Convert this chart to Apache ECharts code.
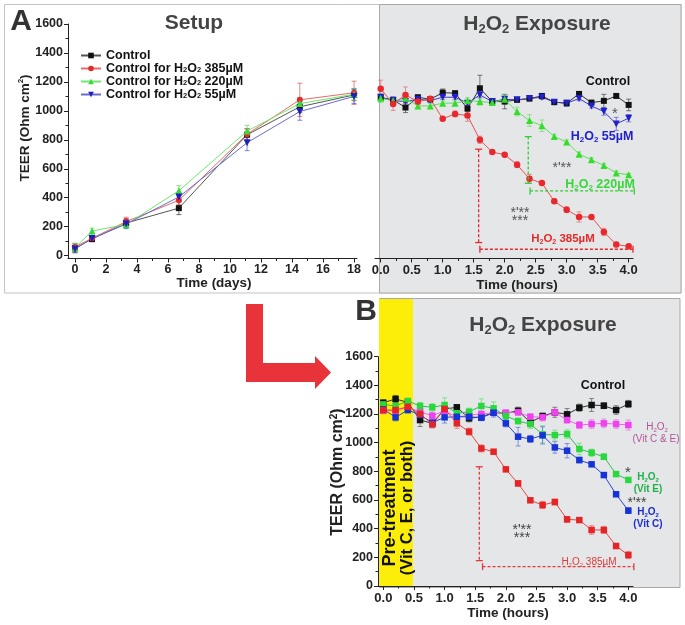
<!DOCTYPE html>
<html><head><meta charset="utf-8">
<script src="https://cdn.jsdelivr.net/npm/echarts@6/dist/echarts.min.js"></script>
<style>html,body{margin:0;padding:0;background:#fff}#c{width:685px;height:625px}</style>
</head><body><div id="c"></div>
<script>
// ---------- DATA ----------
const days = [0, 1.1, 3.3, 6.7, 11.1, 14.5, 18];
const setupControl = [50, 115, 225, 328, 835, 1028, 1110];
const setupControlErr = [30, 20, 30, 45, 40, 40, 40];
const setup385 = [60, 120, 235, 382, 838, 1076, 1125];
const setup385Err = [25, 20, 30, 30, 40, 115, 80];
const setup220 = [55, 170, 215, 448, 860, 1050, 1115];
const setup220Err = [30, 20, 30, 35, 40, 40, 40];
const setup55 = [45, 118, 218, 405, 780, 995, 1100];
const setup55Err = [25, 20, 30, 30, 55, 60, 50];

const hours = [0.0, 0.2, 0.4, 0.6, 0.8, 1.0, 1.2, 1.4, 1.6, 1.8, 2.0, 2.2, 2.4, 2.6, 2.8, 3.0, 3.2, 3.4, 3.6, 3.8, 4.0];

const expControl = [1092, 1076, 1023, 1094, 1080, 1126, 1122, 1016, 1156, 1064, 1064, 1076, 1085, 1103, 1060, 1053, 1117, 1057, 1069, 1103, 1041];
const expControlErr = [20, 20, 35, 15, 15, 25, 15, 20, 90, 15, 50, 10, 15, 15, 15, 20, 10, 15, 45, 10, 40];
const exp55 = [1094, 1071, 1064, 1080, 1071, 1094, 1094, 1053, 1110, 1064, 1080, 1076, 1085, 1094, 1060, 1053, 1085, 1034, 995, 910, 949];
const exp55Err = [20, 15, 15, 15, 15, 15, 15, 15, 20, 15, 15, 10, 15, 15, 15, 20, 15, 15, 25, 45, 25];
const exp220 = [1087, 1069, 1087, 1034, 1034, 1053, 1053, 1071, 1064, 1057, 1080, 995, 933, 897, 823, 784, 701, 662, 623, 570, 559];
const exp220Err = [30, 15, 20, 20, 20, 15, 15, 20, 25, 15, 30, 30, 40, 40, 15, 15, 15, 15, 15, 15, 10];
const exp385 = [1152, 1048, 1110, 1064, 1083, 945, 979, 968, 800, 715, 697, 628, 531, 501, 375, 317, 267, 267, 163, 76, 64];
const exp385Err = [60, 45, 55, 20, 15, 10, 20, 40, 25, 10, 10, 20, 30, 10, 15, 20, 35, 10, 25, 15, 10];

const bControl = [1279, 1305, 1281, 1158, 1135, 1235, 1247, 1170, 1181, 1209, 1205, 1223, 1142, 1186, 1212, 1198, 1244, 1263, 1258, 1228, 1270];
const bControlErr = [20, 25, 20, 45, 20, 20, 15, 25, 25, 20, 20, 25, 15, 20, 35, 40, 25, 45, 20, 30, 25];
const bVitCE = [1223, 1223, 1247, 1216, 1188, 1223, 1177, 1193, 1200, 1209, 1209, 1212, 1181, 1177, 1212, 1158, 1123, 1130, 1135, 1130, 1123];
const bVitCEErr = [20, 25, 20, 20, 25, 20, 20, 20, 20, 20, 20, 20, 20, 25, 20, 20, 25, 30, 30, 30, 35];
const bVitE = [1267, 1256, 1291, 1256, 1247, 1263, 1205, 1216, 1256, 1240, 1186, 1151, 1130, 1058, 1053, 1060, 956, 930, 902, 781, 740];
const bVitEErr = [20, 20, 15, 25, 25, 50, 20, 25, 50, 45, 20, 20, 30, 60, 35, 30, 40, 25, 20, 15, 15];
const bVitC = [1233, 1177, 1228, 1193, 1140, 1177, 1181, 1181, 1174, 1209, 1135, 1042, 1026, 1051, 967, 944, 879, 849, 774, 640, 526];
const bVitCErr = [20, 25, 20, 30, 35, 40, 20, 25, 20, 30, 25, 65, 25, 60, 40, 50, 20, 15, 15, 15, 20];
const b385 = [1228, 1228, 1251, 1200, 1128, 1235, 1135, 1077, 960, 937, 814, 716, 598, 565, 586, 465, 460, 391, 391, 279, 216];
const b385Err = [25, 20, 25, 30, 25, 30, 35, 25, 25, 15, 15, 20, 15, 25, 20, 20, 15, 30, 25, 15, 25];

const teerTicks = [0, 200, 400, 600, 800, 1000, 1200, 1400, 1600];
const teerMinor = [100, 300, 500, 700, 900, 1100, 1300, 1500];
const dayTicks = [0, 2, 4, 6, 8, 10, 12, 14, 16, 18];
const dayMinor = [1, 3, 5, 7, 9, 11, 13, 15, 17];
const hourTicks = [0, 0.5, 1.0, 1.5, 2.0, 2.5, 3.0, 3.5, 4.0];
const hourMinor = [0.25, 0.75, 1.25, 1.75, 2.25, 2.75, 3.25, 3.75];

// significance brackets [x1, y1, x2, y2]
const bracketsA385 = [[1.58, 735, 1.58, 90], [1.60, 44, 4.07, 44]];
const bracketsA220 = [[2.38, 822, 2.38, 500], [2.41, 447, 4.09, 447]];
const bracketsB385 = [[1.567, 832, 1.567, 177], [1.62, 135, 4.09, 135]];

// ---------- HELPERS ----------
const FONT = '"Liberation Sans", Arial, Helvetica, sans-serif';
const GRAY_BG = '#e5e6e8';

function zip(xs, ys) { return ys.map((v, i) => [xs[i], v]); }
function errData(xs, ys, es) { return ys.map((v, i) => [xs[i], v - es[i], v + es[i]]); }

function errSeries(xs, ys, es, color, xi, yi, opacity) {
  return {
    type: 'custom', xAxisIndex: xi, yAxisIndex: yi, z: 1, silent: true,
    data: errData(xs, ys, es),
    renderItem: function (params, api) {
      const x = api.value(0), lo = api.value(1), hi = api.value(2);
      const a = api.coord([x, lo]), b = api.coord([x, hi]);
      const w = 2.5;
      const st = { stroke: color, lineWidth: 1, opacity: opacity };
      return { type: 'group', children: [
        { type: 'line', shape: { x1: a[0], y1: a[1], x2: b[0], y2: b[1] }, style: st },
        { type: 'line', shape: { x1: a[0] - w, y1: a[1], x2: a[0] + w, y2: a[1] }, style: st },
        { type: 'line', shape: { x1: b[0] - w, y1: b[1], x2: b[0] + w, y2: b[1] }, style: st }
      ] };
    }
  };
}

function bracketSeries(data, color, xi, yi) {
  return {
    type: 'custom', xAxisIndex: xi, yAxisIndex: yi, z: 3, silent: true,
    data: data,
    renderItem: function (params, api) {
      const p1 = api.coord([api.value(0), api.value(1)]);
      const p2 = api.coord([api.value(2), api.value(3)]);
      const vertical = Math.abs(p1[0] - p2[0]) < 1;
      const c = 3.5;
      const dash = { stroke: color, lineWidth: 1.3, lineDash: [3, 2] };
      const solid = { stroke: color, lineWidth: 1.3 };
      const caps = vertical ? [
        { type: 'line', shape: { x1: p1[0] - c, y1: p1[1], x2: p1[0] + c, y2: p1[1] }, style: solid },
        { type: 'line', shape: { x1: p2[0] - c, y1: p2[1], x2: p2[0] + c, y2: p2[1] }, style: solid }
      ] : [
        { type: 'line', shape: { x1: p1[0], y1: p1[1] - c, x2: p1[0], y2: p1[1] + c }, style: solid },
        { type: 'line', shape: { x1: p2[0], y1: p2[1] - c, x2: p2[0], y2: p2[1] + c }, style: solid }
      ];
      return { type: 'group', children: [
        { type: 'line', shape: { x1: p1[0], y1: p1[1], x2: p2[0], y2: p2[1] }, style: dash }
      ].concat(caps) };
    }
  };
}

function lineSeries(name, xs, ys, color, symbol, size, xi, yi, extra) {
  return Object.assign({
    name: name, type: 'line', xAxisIndex: xi, yAxisIndex: yi, z: 2,
    data: zip(xs, ys), symbol: symbol, symbolSize: size,
    itemStyle: { color: color },
    lineStyle: { color: color, width: 1 },
    showSymbol: true
  }, extra || {});
}

function rs(size, color, weight) {
  const sub = Math.round(size * 0.62);
  return {
    n: { fontSize: size, fontWeight: weight, fontFamily: FONT, fill: color, color: color, lineHeight: size + 2 },
    s: { fontSize: sub, fontWeight: weight, fontFamily: FONT, fill: color, color: color, lineHeight: sub, verticalAlign: 'bottom' },
    p: { fontSize: sub, fontWeight: weight, fontFamily: FONT, fill: color, color: color, lineHeight: sub, verticalAlign: 'top' }
  };
}
function chem(post) { return '{n|H}{s|2}{n|O}{s|2}' + (post ? '{n|' + post + '}' : ''); }

function txt(x, y, text, size, color, weight, opts) {
  opts = opts || {};
  return {
    type: 'text', x: x, y: y, z: 100, rotation: opts.rotation || 0, silent: true,
    style: {
      text: text, rich: rs(size, color, weight),
      fontSize: size, fontWeight: weight, fontFamily: FONT, fill: color,
      align: 'center', verticalAlign: 'middle', textAlign: 'center', textVerticalAlign: 'middle'
    }
  };
}

const plain = v => String(v);
function valueAxis(gridIndex, min, max, ticks, opts) {
  opts = opts || {};
  return Object.assign({
    type: 'value', gridIndex: gridIndex, min: min, max: max,
    axisLine: { show: true, onZero: false, lineStyle: { color: '#222', width: 1 } },
    axisTick: { show: true, customValues: ticks, length: 4, lineStyle: { color: '#222' } },
    axisLabel: { show: true, customValues: ticks, margin: 5, fontSize: 12.5, fontWeight: 'bold', color: '#222', fontFamily: FONT, formatter: plain },
    splitLine: { show: false }
  }, opts);
}
function minorAxis(gridIndex, min, max, ticks, pos) {
  return {
    type: 'value', gridIndex: gridIndex, min: min, max: max, position: pos, offset: 0,
    axisLine: { show: false, onZero: false },
    axisTick: { show: true, customValues: ticks, length: 2.5, lineStyle: { color: '#222' } },
    axisLabel: { show: false }, splitLine: { show: false }
  };
}
const hourFmt = v => v.toFixed(1);

// ---------- OPTION ----------
const legendNames = {
  'Control': '{n|Control}',
  'Control for H2O2 385µM': '{n|Control for H}{s|2}{n|O}{s|2}{n| 385µM}',
  'Control for H2O2 220µM': '{n|Control for H}{s|2}{n|O}{s|2}{n| 220µM}',
  'Control for H2O2 55µM': '{n|Control for H}{s|2}{n|O}{s|2}{n| 55µM}'
};
const legRich = {
  n: { fontSize: 12.5, fontWeight: 'bold', fontFamily: FONT, color: '#111', lineHeight: 11.5 },
  s: { fontSize: 7.5, fontWeight: 'bold', fontFamily: FONT, color: '#111', lineHeight: 7, verticalAlign: 'bottom' }
};

const option = {
  animation: false,
  backgroundColor: '#ffffff',
  textStyle: { fontFamily: FONT },
  grid: [
    { left: 68, top: 24, width: 289, height: 234.5, outerBoundsMode: 'none' },
    { left: 375, top: 24, width: 258, height: 234.5, outerBoundsMode: 'none' },
    { left: 378, top: 356.7, width: 255, height: 229.3, outerBoundsMode: 'none' }
  ],
  xAxis: [
    valueAxis(0, -0.45, 18.19, dayTicks, { position: 'bottom' }),
    minorAxis(0, -0.45, 18.19, dayMinor, 'bottom'),
    valueAxis(1, -0.092, 4.07, hourTicks, { position: 'bottom', axisLabel: { customValues: hourTicks, margin: 5, fontSize: 13, fontWeight: 'bold', color: '#222', fontFamily: FONT, formatter: hourFmt } }),
    minorAxis(1, -0.092, 4.07, hourMinor, 'bottom'),
    valueAxis(2, -0.087, 4.076, hourTicks, { position: 'bottom', axisLabel: { customValues: hourTicks, margin: 6, fontSize: 13, fontWeight: 'bold', color: '#222', fontFamily: FONT, formatter: hourFmt } }),
    minorAxis(2, -0.087, 4.076, hourMinor, 'bottom')
  ],
  yAxis: [
    valueAxis(0, -20, 1600, teerTicks, { position: 'left' }),
    minorAxis(0, -20, 1600, teerMinor, 'left'),
    { type: 'value', gridIndex: 1, min: -20, max: 1600, show: false },
    valueAxis(2, 0, 1600, teerTicks, { position: 'left' }),
    minorAxis(2, 0, 1600, teerMinor, 'left')
  ],
  legend: {
    data: ['Control', 'Control for H2O2 385µM', 'Control for H2O2 220µM', 'Control for H2O2 55µM'],
    orient: 'vertical', left: 80, top: 49, itemGap: 0, itemWidth: 20, itemHeight: 7,
    padding: 0,
    formatter: n => legendNames[n],
    textStyle: { fontSize: 12.5, fontWeight: 'bold', color: '#111', fontFamily: FONT, rich: legRich }
  },
  graphic: [
    // panel backgrounds
    { type: 'rect', z: -10, silent: true, shape: { x: 4.5, y: 4.5, width: 676.5, height: 288.5 }, style: { fill: '#ffffff', stroke: '#c4c4c4', lineWidth: 1 } },
    { type: 'rect', z: -9, silent: true, shape: { x: 379.5, y: 4.5, width: 301.5, height: 288.5 }, style: { fill: GRAY_BG, stroke: '#a9a9a9', lineWidth: 1 } },
    { type: 'rect', z: -9, silent: true, shape: { x: 379.5, y: 298.5, width: 300.5, height: 289 }, style: { fill: GRAY_BG, stroke: '#a9a9a9', lineWidth: 1 } },
    { type: 'rect', z: -8, silent: true, shape: { x: 379, y: 299, width: 34, height: 287.5 }, style: { fill: '#fcee09' } },
    // red arrow
    { type: 'polygon', z: 5, silent: true, shape: { points: [[246, 304], [263, 304], [263, 363], [315, 363], [315, 356], [331, 372.5], [315, 389], [315, 382], [246, 382]] }, style: { fill: '#e8333b' } },
    // panel letters & titles
    txt(21, 22, '{n|A}', 30, '#333', 'bold'),
    txt(194, 23, '{n|Setup}', 21, '#444', 'bold'),
    txt(537, 24, chem(' Exposure'), 21, '#444', 'bold'),
    txt(366, 312, '{n|B}', 30, '#333', 'bold'),
    txt(543, 325, chem(' Exposure'), 21, '#444', 'bold'),
    // axis names
    txt(25, 128, '{n|TEER (Ohm cm}{p|2}{n|)}', 13.5, '#222', 'bold', { rotation: Math.PI / 2 }),
    txt(214, 283, '{n|Time (days)}', 13.5, '#222', 'bold'),
    txt(517, 285, '{n|Time (hours)}', 13.5, '#222', 'bold'),
    txt(338, 472, '{n|TEER (Ohm cm}{p|2}{n|)}', 16, '#222', 'bold', { rotation: Math.PI / 2 }),
    txt(508, 613, '{n|Time (hours)}', 13.5, '#222', 'bold'),
    // yellow band text
    txt(390, 508, '{n|Pre-treatment}', 18, '#111', 'bold', { rotation: Math.PI / 2 }),
    txt(407, 508, '{n|(Vit C, E, or both)}', 16.5, '#111', 'bold', { rotation: Math.PI / 2 }),
    // panel A exposure annotations
    txt(608, 82, '{n|Control}', 12.5, '#111', 'bold'),
    txt(602, 137, chem(' 55µM'), 12.5, '#2020cc', 'bold'),
    txt(615, 114, '{n|*}', 15, '#555', 'normal'),
    txt(562, 168, "{n|*'**}", 14, '#555', 'normal'),
    txt(600, 185, chem(' 220µM'), 12.5, '#39d739', 'bold'),
    txt(520, 213, "{n|*'**}", 14, '#555', 'normal'),
    txt(520, 221, '{n|***}', 14, '#555', 'normal'),
    txt(563, 239, chem(' 385µM'), 11.5, '#e52a2a', 'bold'),
    // panel B annotations
    txt(603, 386, '{n|Control}', 12.5, '#111', 'bold'),
    txt(657, 427, chem(''), 10, '#b0579a', 'normal'),
    txt(656, 439, '{n|(Vit C & E)}', 10, '#b0579a', 'normal'),
    txt(628, 473, '{n|*}', 15, '#444', 'normal'),
    txt(648, 477, chem(''), 10, '#23b04a', 'bold'),
    txt(648, 489, '{n|(Vit E)}', 10, '#23b04a', 'bold'),
    txt(637, 503, "{n|*'**}", 14, '#444', 'normal'),
    txt(648, 512, chem(''), 10, '#1a2fcc', 'bold'),
    txt(648, 524, '{n|(Vit C)}', 10, '#1a2fcc', 'bold'),
    txt(522, 530, "{n|*'**}", 14, '#444', 'normal'),
    txt(522, 538, '{n|***}', 14, '#444', 'normal'),
    txt(589, 562, chem(' 385µM'), 10, '#e23a3a', 'normal')
  ],
  series: [
    // Setup
    errSeries(days, setupControl, setupControlErr, '#333', 0, 0, 0.7),
    errSeries(days, setup385, setup385Err, '#e85050', 0, 0, 0.7),
    errSeries(days, setup220, setup220Err, '#55dd55', 0, 0, 0.7),
    errSeries(days, setup55, setup55Err, '#5555cc', 0, 0, 0.7),
    lineSeries('Control', days, setupControl, '#111', 'rect', 6, 0, 0, { lineStyle: { color: '#555', width: 1 } }),
    lineSeries('Control for H2O2 385µM', days, setup385, '#e32a2a', 'circle', 6, 0, 0, { lineStyle: { color: '#e86a6a', width: 1 } }),
    lineSeries('Control for H2O2 220µM', days, setup220, '#3ad83a', 'triangle', 7, 0, 0, { lineStyle: { color: '#6ee86e', width: 1 } }),
    lineSeries('Control for H2O2 55µM', days, setup55, '#1f1fc0', 'triangle', 7, 0, 0, { symbolRotate: 180, lineStyle: { color: '#6a6ad0', width: 1 } }),
    // A exposure
    errSeries(hours, expControl, expControlErr, '#444', 2, 2, 0.7),
    errSeries(hours, exp55, exp55Err, '#4444cc', 2, 2, 0.6),
    errSeries(hours, exp220, exp220Err, '#55dd55', 2, 2, 0.6),
    errSeries(hours, exp385, exp385Err, '#ee5555', 2, 2, 0.6),
    lineSeries('eC', hours, expControl, '#111', 'rect', 6, 2, 2, { lineStyle: { color: '#333', width: 1 } }),
    lineSeries('e55', hours, exp55, '#2020cc', 'triangle', 7, 2, 2, { symbolRotate: 180, lineStyle: { color: '#3a3acc', width: 1 } }),
    lineSeries('e220', hours, exp220, '#35dd2a', 'triangle', 7, 2, 2, { lineStyle: { color: '#5ee05e', width: 1 } }),
    lineSeries('e385', hours, exp385, '#e8282c', 'circle', 6.5, 2, 2, { lineStyle: { color: '#e85050', width: 1 } }),
    bracketSeries(bracketsA385, '#e8282c', 2, 2),
    bracketSeries(bracketsA220, '#35cc35', 2, 2),
    // B
    errSeries(hours, bControl, bControlErr, '#444', 4, 3, 0.6),
    errSeries(hours, bVitCE, bVitCEErr, '#e060e0', 4, 3, 0.6),
    errSeries(hours, bVitE, bVitEErr, '#45dd55', 4, 3, 0.6),
    errSeries(hours, bVitC, bVitCErr, '#4455dd', 4, 3, 0.6),
    errSeries(hours, b385, b385Err, '#ee5555', 4, 3, 0.6),
    lineSeries('bC', hours, bControl, '#111', 'rect', 6.5, 4, 3, { lineStyle: { color: '#333', width: 1 } }),
    lineSeries('bCE', hours, bVitCE, '#f040f0', 'rect', 6.5, 4, 3, { lineStyle: { color: '#f060f0', width: 1 } }),
    lineSeries('bE', hours, bVitE, '#29d93c', 'rect', 6.5, 4, 3, { lineStyle: { color: '#2ebd5a', width: 1 } }),
    lineSeries('bVC', hours, bVitC, '#1533d6', 'rect', 6.5, 4, 3, { lineStyle: { color: '#2a45d6', width: 1 } }),
    lineSeries('b385', hours, b385, '#e52525', 'rect', 6.5, 4, 3, { lineStyle: { color: '#e54545', width: 1 } }),
    bracketSeries(bracketsB385, '#e23a3a', 4, 3)
  ]
};

const chart = echarts.init(document.getElementById('c'), null, { renderer: 'canvas' });
chart.setOption(option);
</script>
</body></html>
